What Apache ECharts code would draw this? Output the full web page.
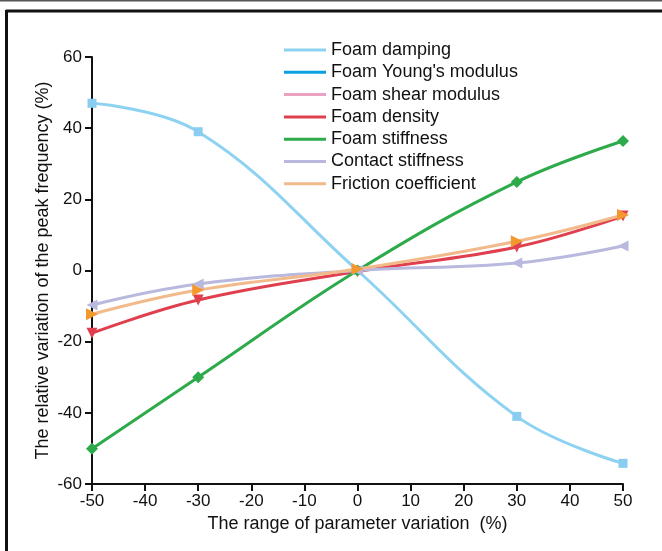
<!DOCTYPE html>
<html>
<head>
<meta charset="utf-8">
<script src="https://cdn.jsdelivr.net/npm/echarts@6/dist/echarts.min.js"></script>
<style>
  html, body { margin: 0; padding: 0; background: #fff; }
  #chart { width: 662px; height: 551px; }
</style>
</head>
<body>
<div id="chart"></div>
<script>
// parameter variation (%)
const xs = [-50, -30, 0, 30, 50]
// relative variation of peak frequency (%)
const foamDamping = [47, 39, 0, -41, -54.2]
const foamYoung = []
const foamShear = []
const foamDensity = [-17.6, -8.3, -0.3, 6.6, 15.3]
const foamStiffness = [-50.1, -30, 0, 24.9, 36.4]
const contactStiffness = [-9.7, -3.8, 0, 2.1, 6.9]
const frictionCoef = [-12.3, -5.5, 0.4, 8.2, 15.6]
const xTicks = { min: -50, max: 50, interval: 10 }
const yTicks = { min: -60, max: 60, interval: 20 }

const font = 'Arial, "Liberation Sans", sans-serif'

function pairs(vals) {
  return vals.map((v, i) => [xs[i], v])
}

function makeSeries(name, vals, lineColor, markColor, symbol, rotate, size) {
  return {
    name: name,
    type: 'line',
    smooth: 0.4,
    data: pairs(vals),
    symbol: symbol,
    symbolRotate: rotate,
    symbolSize: size,
    showAllSymbol: true,
    lineStyle: { color: lineColor, width: 3 },
    itemStyle: { color: markColor },
    emphasis: { disabled: true }
  }
}

const chart = echarts.init(document.getElementById('chart'))

const series = [
  makeSeries('Foam damping', foamDamping, '#8DD3F1', '#89CEF0', 'rect', 0, 9),
  makeSeries("Foam Young's modulus", foamYoung, '#0AA0E0', '#0AA0E0', 'circle', 0, 8),
  makeSeries('Foam shear modulus', foamShear, '#EBA2C2', '#EBA2C2', 'circle', 0, 8),
  makeSeries('Foam density', foamDensity, '#E0404E', '#E0404E', 'triangle', 180, 11),
  makeSeries('Foam stiffness', foamStiffness, '#2DAA4A', '#2DAA4A', 'diamond', 0, 12),
  makeSeries('Contact stiffness', contactStiffness, '#B9B9DF', '#B9B9DF', 'triangle', 90, 11),
  makeSeries('Friction coefficient', frictionCoef, '#F2BA8A', '#F3982F', 'triangle', -90, 12)
]

const option = {
  animation: false,
  backgroundColor: '#fff',
  textStyle: { fontFamily: font },
  grid: { left: 92, right: 39, top: 57, bottom: 67 },
  legend: {
    orient: 'vertical',
    left: 279,
    top: 36,
    itemWidth: 42,
    itemHeight: 3,
    itemGap: 4.3,
    icon: 'rect',
    textStyle: { fontSize: 18, color: '#111', fontFamily: font, lineHeight: 18 },
    data: series.map(s => ({ name: s.name, itemStyle: { color: s.lineStyle.color } }))
  },
  xAxis: {
    type: 'value',
    min: xTicks.min,
    max: xTicks.max,
    interval: xTicks.interval,
    name: 'The range of parameter variation  (%)',
    nameLocation: 'middle',
    nameGap: 26,
    nameTextStyle: { fontSize: 18, color: '#111', fontFamily: font },
    axisLine: { onZero: false, lineStyle: { color: '#111', width: 2 } },
    axisTick: { length: 7, lineStyle: { color: '#111', width: 2 } },
    axisLabel: { fontSize: 17, color: '#111', margin: 9 },
    splitLine: { show: false }
  },
  yAxis: {
    type: 'value',
    min: yTicks.min,
    max: yTicks.max,
    interval: yTicks.interval,
    name: 'The relative variation of the peak frequency (%)',
    nameLocation: 'middle',
    nameGap: 40,
    nameMoveOverlap: false,
    nameTextStyle: { fontSize: 18, color: '#111', fontFamily: font },
    axisLine: { show: true, onZero: false, lineStyle: { color: '#111', width: 2 } },
    axisTick: { show: true, length: 7, lineStyle: { color: '#111', width: 2 } },
    axisLabel: { fontSize: 17, color: '#111', margin: 10 },
    splitLine: { show: false }
  },
  graphic: [
    { type: 'line', shape: { x1: 0, y1: 0.5, x2: 662, y2: 0.5 }, style: { stroke: '#555', lineWidth: 2 } },
    { type: 'line', shape: { x1: 6, y1: 11, x2: 662, y2: 11 }, style: { stroke: '#111', lineWidth: 3 } },
    { type: 'line', shape: { x1: 6.5, y1: 10, x2: 6.5, y2: 551 }, style: { stroke: '#111', lineWidth: 3 } }
  ],
  series: series
}

chart.setOption(option)
</script>
</body>
</html>
